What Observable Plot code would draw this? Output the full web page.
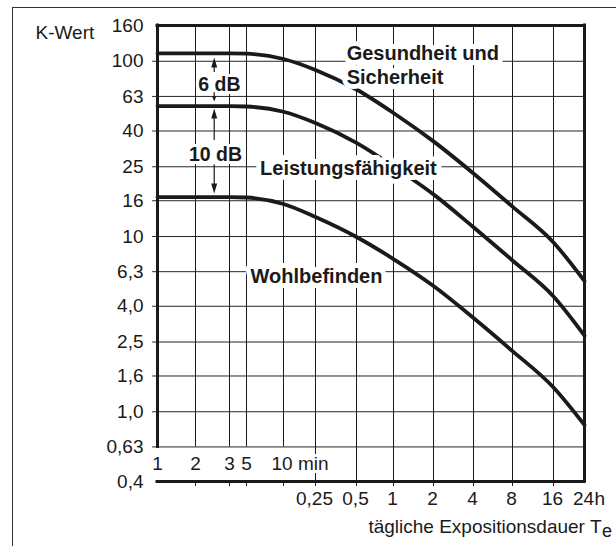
<!DOCTYPE html>
<html><head><meta charset="utf-8">
<script src="https://cdn.jsdelivr.net/npm/d3@7"></script>
<script src="https://cdn.jsdelivr.net/npm/@observablehq/plot@0.6"></script>
<style>
html,body{margin:0;padding:0;background:#fff;}
#wrap{position:relative;width:616px;height:546px;overflow:hidden;background:#fff;}
#grid,#chart{position:absolute;left:0;top:0;}
#chart svg{font-family:'Liberation Sans', Arial, sans-serif;font-size:19px;}
#frame{position:absolute;left:12px;top:7px;width:700px;height:700px;border-left:1.5px solid #333;border-top:1.5px solid #333;pointer-events:none;}
</style></head><body>
<div id="wrap"><div id="grid"></div><div id="chart"></div><div id="frame"></div></div>
<script>
// ---- data ----
const gridTimes = [1, 2, 3, 5, 10, 15, 30, 60, 120, 240, 480, 960, 1440]; // minutes
const minuteTicks = [1, 2, 3, 5, 10];
const minuteLabels = ["1", "2", "3", "5", "10 min"];
const hourTicks = [15, 30, 60, 120, 240, 480, 960, 1440];
const hourLabels = ["0,25", "0,5", "1", "2", "4", "8", "16", "24"];
const kTicks = [0.4, 0.63, 1, 1.6, 2.5, 4, 6.3, 10, 16, 25, 40, 63, 100, 160];
const kLabels = ["0,4", "0,63", "1,0", "1,6", "2,5", "4,0", "6,3", "10", "16", "25", "40", "63", "100", "160"];

const tMin = [1, 2, 3, 5, 10, 15, 30, 60, 120, 240, 480, 960, 1440];
const kGesundheit = [111, 111, 111, 110.5, 103, 89.2, 69.0, 50.7, 34.9, 22.9, 14.8, 9.25, 5.57];
const kLeistung = [55.5, 55.5, 55.5, 55.2, 51.5, 44.4, 34.2, 25.1, 17.4, 11.3, 7.3, 4.55, 2.72];
const kWohl = [16.8, 16.8, 16.8, 16.7, 15.33, 12.92, 9.94, 7.44, 5.22, 3.43, 2.22, 1.376, 0.84];

const labelTexts = ["Gesundheit und", "Sicherheit", "Leistungsfähigkeit", "Wohlbefinden"];
const labelT = [25.4, 25.4, 6.45, 5.4];
const labelK = [110, 81.2, 24.5, 5.87];

const dbTexts = ["6 dB", "10 dB"];
const dbT = [2.66, 2.54];
const dbK = [73.7, 29.4];
const arrowT = 2.5;
const shaftFrom = [98.4, 66.4, 50.4, 25.7];
const shaftTo = [86.3, 60.9, 35.3, 18.8];
const headUpK = [98.4, 50.4];
const headDownK = [18.8];
const headDownSmallK = [60.9];

const xTitle = "tägliche Expositionsdauer T";
const xTitleSub = "e";
const yTitle = "K-Wert";

// ---- build ----
const ink = "#1a1a1a";
const curves = [];
tMin.forEach((t, i) => {
  curves.push({series: "Gesundheit", t, k: kGesundheit[i]});
  curves.push({series: "Leistung", t, k: kLeistung[i]});
  curves.push({series: "Wohl", t, k: kWohl[i]});
});
const labelData = labelTexts.map((s, i) => ({s, t: labelT[i], k: labelK[i]}));
const dbData = dbTexts.map((s, i) => ({s, t: dbT[i], k: dbK[i]}));
const shafts = shaftFrom.map((a, i) => ({t: arrowT, y1: a, y2: shaftTo[i]}));
const yTickData = kTicks.map((k, i) => ({k, s: kLabels[i]}));
const minData = minuteTicks.map((t, i) => ({t, s: minuteLabels[i]}));
const hourData = hourTicks.map((t, i) => ({t, s: hourLabels[i]}));
const innerK = kTicks.filter(k => k > 0.4 && k < 160);
const tStart = gridTimes[0], tEnd = gridTimes[gridTimes.length - 1];
const kMin = kTicks[0], kMax = kTicks[kTicks.length - 1];
const tickLenX = Math.pow(2, 5 / 38);          // ≈5px in the 1–2 min segment
const hTicks = innerK.flatMap(k => [{t: tStart, k}, {t: tStart * tickLenX, k}]);
const tickLenY = Math.pow(10, 5 / 175.25);     // ≈5px on the K axis
const inner = gridTimes.slice(1, -1);

const frameOpts = {
  width: 616,
  height: 546,
  marginLeft: 157,
  marginRight: 32,
  marginTop: 25,
  marginBottom: 65
};
const scaleX = {type: "log", domain: gridTimes, range: [157, 195, 229, 246, 283, 315, 356, 393, 433, 473, 512, 553, 584], axis: null};
const scaleY = {type: "log", domain: [kMin, kMax], axis: null};

function tri(w, h, up) {
  return {draw(ctx) {
    const s = up ? 1 : -1;
    ctx.moveTo(0, -s * h / 2);
    ctx.lineTo(w / 2, s * h / 2);
    ctx.lineTo(-w / 2, s * h / 2);
    ctx.closePath();
  }};
}
const bold = {fontWeight: "bold", fontSize: 20, fill: ink};

// layer 1: horizontal grid (own SVG, underneath)
const gridPlot = Plot.plot({
  ...frameOpts,
  x: scaleX,
  y: scaleY,
  marks: [
    Plot.ruleY(innerK, {stroke: "#262626", strokeWidth: 1}),
    Plot.line(hTicks, {x: "t", y: "k", z: "k", stroke: "#262626", strokeWidth: 1, dx: -5})
  ]
});
document.getElementById("grid").appendChild(gridPlot);

// layer 2: everything else
const chart = Plot.plot({
  ...frameOpts,
  x: scaleX,
  y: scaleY,
  marks: [
    // vertical grid
    Plot.ruleX(minuteTicks.slice(1), {y1: kMax, y2: 0.63, stroke: ink, strokeWidth: 1}),
    Plot.ruleX(hourTicks.slice(0, -1), {y1: kMax, y2: kMin, stroke: ink, strokeWidth: 1}),
    Plot.ruleX(inner, {y1: kMin, y2: kMin / tickLenY, stroke: ink, strokeWidth: 1}),
    // tick labels
    Plot.text(yTickData, {y: "k", text: "s", frameAnchor: "left", dx: -14, textAnchor: "end", fill: ink}),
    Plot.text(minData.slice(0, -1), {x: "t", text: "s", frameAnchor: "bottom", dy: -12, fill: ink}),
    Plot.text(minData.slice(-1), {x: "t", text: "s", frameAnchor: "bottom", dy: -12, dx: -12, textAnchor: "start", fill: ink, stroke: "white", strokeWidth: 6}),
    Plot.text(hourData, {x: "t", text: "s", frameAnchor: "bottom", dy: 23, dx: -1, fill: ink}),
    Plot.text(["h"], {x: () => tEnd, text: d => d, frameAnchor: "bottom", dy: 23, dx: 10, textAnchor: "start", fill: ink}),
    Plot.text([yTitle], {text: d => d, frameAnchor: "top-left", dx: -122, textAnchor: "start", fill: ink}),
    Plot.text([xTitle], {text: d => d, frameAnchor: "bottom-right", dx: 17, dy: 51.6, textAnchor: "end", fill: ink}),
    Plot.text([xTitleSub], {text: d => d, frameAnchor: "bottom-right", dx: 17.5, dy: 55, textAnchor: "start", fill: ink, fontSize: 18}),
    // curves
    Plot.line(curves, {x: "t", y: "k", z: "series", stroke: ink, strokeWidth: 3.8, curve: "monotone-x"}),
    // curve labels
    Plot.text(labelData, {x: "t", y: "k", text: "s", textAnchor: "start", stroke: "white", strokeWidth: 10, strokeLinejoin: "round", ...bold}),
    // dB annotations
    Plot.ruleX(shafts, {x: "t", y1: "y1", y2: "y2", stroke: ink, strokeWidth: 1.2}),
    Plot.text(dbData, {x: "t", y: "k", text: "s", textAnchor: "middle", stroke: "white", strokeWidth: 6, strokeLinejoin: "round", fontWeight: "bold", fontSize: 19.5, fill: ink}),
    Plot.dot(headUpK, {x: () => arrowT, y: d => d, symbol: tri(6, 10, true), fill: ink, stroke: null}),
    Plot.dot(headDownK, {x: () => arrowT, y: d => d, symbol: tri(6, 10, false), fill: ink, stroke: null}),
    Plot.dot(headDownSmallK, {x: () => arrowT, y: d => d, symbol: tri(4, 5, false), fill: ink, stroke: null}),
    // heavy frame
    Plot.ruleY([kMax], {x1: tStart, x2: tEnd, stroke: ink, strokeWidth: 3, strokeLinecap: "square"}),
    Plot.ruleY([kMin], {x1: tStart, x2: tEnd, stroke: ink, strokeWidth: 3, strokeLinecap: "square"}),
    Plot.ruleX([tStart], {y1: 0.63, y2: kMax, stroke: ink, strokeWidth: 3, strokeLinecap: "square"}),
    Plot.ruleX([tEnd], {y1: kMin, y2: kMax, stroke: ink, strokeWidth: 3, strokeLinecap: "square"})
  ]
});
document.getElementById("chart").appendChild(chart);
</script>
</body></html>
